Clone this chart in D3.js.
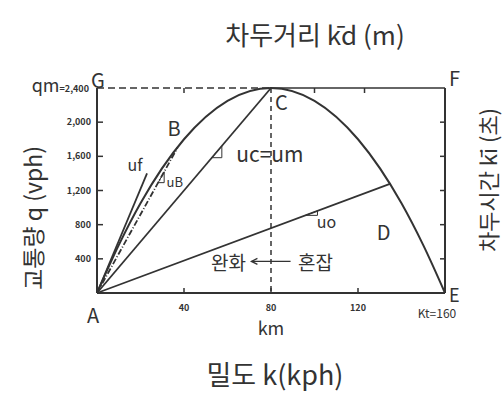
<!DOCTYPE html>
<html>
<head>
<meta charset="utf-8">
<script src="https://cdn.jsdelivr.net/npm/d3@7"></script>
<style>
  body { margin: 0; background: #fff; }
  text { font-family: "Noto Sans CJK KR", "Noto Sans", sans-serif; fill: #333; }
</style>
</head>
<body>
<div class="chart"></div>
<script>
// density ticks (kph) and flow ticks (vph)
const kTicks = [40, 80, 120]
const qTicks = [400, 800, 1200, 1600, 2000]
const topTicks = [40, 100, 123]
const rightTicks = [400, 800, 1200, 1600, 2000]

// flow-density curve
const curveK = [0, 10, 20, 40, 60, 80, 100, 120, 140, 150, 160]
const curveQ = [0, 560, 1050, 1800, 2250, 2400, 2250, 1800, 1050, 560, 0]

// speed rays from A
const rays = [
  { name: "uf", k: 23, q: 1400, dash: null },
  { name: "uB", k: 37, q: 1700, dash: "6,2,1,2" },
  { name: "uc", k: 80, q: 2400, dash: null },
  { name: "uo", k: 135, q: 1280, dash: null }
]

const width = 504
const height = 400
const svg = d3.select(".chart")
  .append("svg")
  .attr("width", width)
  .attr("height", height)

const x = d3.scaleLinear().domain([0, 160]).range([97, 445])
const y = d3.scaleLinear().domain([0, 2400]).range([293, 88])
const ink = "#333"

// frame: left axis, bottom axis, right axis, top line
svg.append("line").attr("x1", x(0)).attr("x2", x(0)).attr("y1", y(0)).attr("y2", y(2400))
  .attr("stroke", ink).attr("stroke-width", 2)
svg.append("line").attr("x1", x(0)).attr("x2", x(160)).attr("y1", y(0)).attr("y2", y(0))
  .attr("stroke", ink).attr("stroke-width", 2)
svg.append("line").attr("x1", x(160)).attr("x2", x(160)).attr("y1", y(0)).attr("y2", y(2400))
  .attr("stroke", ink).attr("stroke-width", 2)
svg.append("line").attr("x1", x(0)).attr("x2", x(80)).attr("y1", y(2400)).attr("y2", y(2400))
  .attr("stroke", ink).attr("stroke-width", 1.5).attr("stroke-dasharray", "7,4")
svg.append("line").attr("x1", x(80)).attr("x2", x(160)).attr("y1", y(2400)).attr("y2", y(2400))
  .attr("stroke", ink).attr("stroke-width", 1.5)

// ticks
svg.selectAll(".ltick").data(qTicks).join("line")
  .attr("x1", x(0)).attr("x2", x(0) + 6).attr("y1", d => y(d)).attr("y2", d => y(d))
  .attr("stroke", ink).attr("stroke-width", 1.5)
svg.selectAll(".rtick").data(rightTicks).join("line")
  .attr("x1", x(160) - 5).attr("x2", x(160)).attr("y1", d => y(d)).attr("y2", d => y(d))
  .attr("stroke", ink).attr("stroke-width", 1.5)
svg.selectAll(".btick").data(kTicks).join("line")
  .attr("x1", d => x(d)).attr("x2", d => x(d)).attr("y1", y(0)).attr("y2", y(0) - 5)
  .attr("stroke", ink).attr("stroke-width", 1.5)
svg.selectAll(".ttick").data(topTicks).join("line")
  .attr("x1", d => x(d)).attr("x2", d => x(d)).attr("y1", y(2400)).attr("y2", y(2400) + 5)
  .attr("stroke", ink).attr("stroke-width", 1.5)

// tick labels
svg.selectAll(".qlab").data(qTicks).join("text")
  .attr("x", x(0) - 6).attr("y", d => y(d) + 3)
  .attr("text-anchor", "end")
  .style("font-size", "9px").style("font-weight", "bold")
  .text(d => d3.format(",")(d))
svg.selectAll(".klab").data(kTicks).join("text")
  .attr("x", d => x(d)).attr("y", y(0) + 18)
  .attr("text-anchor", "middle")
  .style("font-size", "9px").style("font-weight", "bold")
  .text(d => d)
const qm = svg.append("text").attr("x", x(0) - 8).attr("y", y(2400) + 4)
  .attr("text-anchor", "end")
qm.append("tspan").style("font-size", "18px").text("qm")
qm.append("tspan").style("font-size", "9px").style("font-weight", "bold").text("=2,400")
svg.append("text").attr("x", x(160) - 8).attr("y", y(0) + 25)
  .attr("text-anchor", "middle").style("font-size", "12px")
  .text("Kt=160")

// vertical dashed line at capacity
svg.append("line").attr("x1", x(80)).attr("x2", x(80)).attr("y1", y(2400)).attr("y2", y(0))
  .attr("stroke", ink).attr("stroke-width", 1.5).attr("stroke-dasharray", "5,4")

// parabola
const pts = curveK.map((k, i) => [k, curveQ[i]])
svg.append("path")
  .datum(pts)
  .attr("d", d3.line().x(d => x(d[0])).y(d => y(d[1])).curve(d3.curveMonotoneX))
  .attr("fill", "none").attr("stroke", ink).attr("stroke-width", 2)

// rays from A
svg.selectAll(".ray").data(rays).join("line")
  .attr("x1", x(0)).attr("y1", y(0))
  .attr("x2", d => x(d.k)).attr("y2", d => y(d.q))
  .attr("stroke", ink).attr("stroke-width", 1.8)
  .attr("stroke-dasharray", d => d.dash)

// small slope triangles sitting under the rays
const tri = [{ ray: 1, t: 0.76, w: 6 }, { ray: 2, t: 0.66, w: 10 }, { ray: 3, t: 0.71, w: 12 }]
tri.forEach(o => {
  const r = rays[o.ray]
  const px = x(r.k * o.t), py = y(r.q * o.t)
  const s = (y(0) - y(r.q)) / (x(r.k) - x(0))
  svg.append("path")
    .attr("d", `M${px},${py} L${px + o.w},${py - o.w * s} L${px + o.w},${py}Z`)
    .attr("fill", "none").attr("stroke", ink).attr("stroke-width", 1)
})

// point labels
const big = "20px"
svg.append("text").attr("x", x(0) - 4).attr("y", y(0) + 30).attr("text-anchor", "middle").style("font-size", big).text("A")
svg.append("text").attr("x", x(0) - 6).attr("y", y(2400)).style("font-size", big).text("G")
svg.append("text").attr("x", x(160) + 4).attr("y", y(2400) - 2).style("font-size", big).text("F")
svg.append("text").attr("x", x(160) + 4).attr("y", y(0) + 9).style("font-size", "18px").text("E")
svg.append("text").attr("x", x(80) + 4).attr("y", y(2400) + 22).style("font-size", big).text("C")
svg.append("text").attr("x", x(37) - 10).attr("y", y(1700) - 12).style("font-size", big).text("B")
svg.append("text").attr("x", x(135) - 14).attr("y", y(1280) + 56).style("font-size", big).text("D")

// speed labels
svg.append("text").attr("x", x(14)).attr("y", y(1430)).style("font-size", "16px").text("uf")
svg.append("text").attr("x", x(32)).attr("y", y(1240)).style("font-size", "13px").text("uB")
svg.append("text").attr("x", x(64)).attr("y", y(1530)).style("font-size", "21px").text("uc=um")
svg.append("text").attr("x", x(101)).attr("y", y(760)).style("font-size", "16px").text("uo")

// free / congested arrow
svg.append("line").attr("x1", x(71)).attr("x2", x(89)).attr("y1", y(370)).attr("y2", y(370))
  .attr("stroke", ink).attr("stroke-width", 1.3)
svg.append("path")
  .attr("d", `M${x(71) + 6},${y(370) - 3} L${x(71)},${y(370)} L${x(71) + 6},${y(370) + 3}`)
  .attr("fill", "none").attr("stroke", ink).attr("stroke-width", 1.3)
svg.append("text").attr("x", x(80) - 25).attr("y", y(370) + 9).attr("text-anchor", "end").style("font-size", "19px").text("완화")
svg.append("text").attr("x", x(80) + 27).attr("y", y(370) + 9).style("font-size", "19px").text("혼잡")

// axis titles
svg.append("text").attr("x", x(80)).attr("y", y(0) + 42).attr("text-anchor", "middle").style("font-size", "18px").text("km")
svg.append("text").attr("x", 275).attr("y", 385).attr("text-anchor", "middle").style("font-size", "27px").text("밀도 k(kph)")
svg.append("text").attr("x", 315).attr("y", 45).attr("text-anchor", "middle").style("font-size", "26px").text("차두거리 k̄d (m)")
svg.append("text").attr("transform", "translate(42,218) rotate(-90)").attr("text-anchor", "middle").style("font-size", "23px").text("교통량 q (vph)")
svg.append("text").attr("transform", "translate(497,180) rotate(-90)").attr("text-anchor", "middle").style("font-size", "22px").text("차두시간 k̄i (초)")
</script>
</body>
</html>
